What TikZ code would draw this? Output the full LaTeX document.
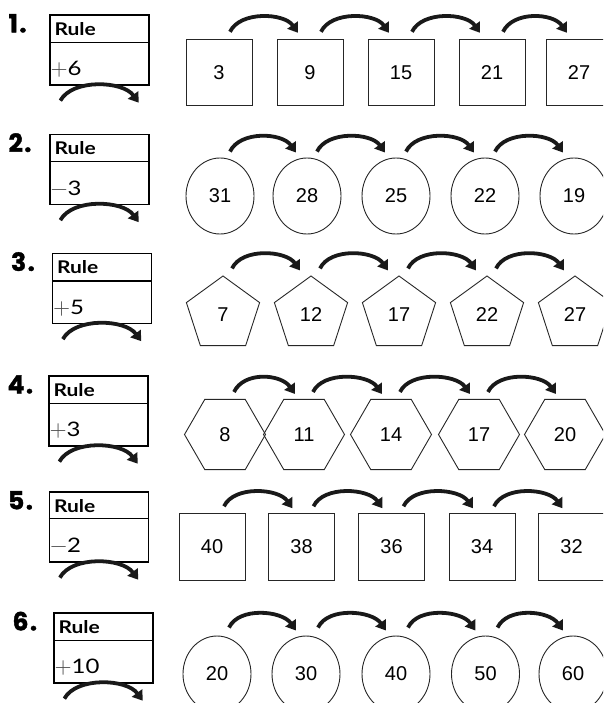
\documentclass[tikz,border=0pt]{standalone}
\usepackage{fontspec}
\setmainfont{Liberation Sans}
\newfontfamily\labfont{Poppins}[BoldFeatures={FakeBold=1.5}]
\newfontfamily\rulefont{Lato}[FakeStretch=1.2]
\newfontfamily\lmsign{lmroman10-regular.otf}
\usetikzlibrary{shapes.geometric,arrows.meta}
\newcommand{\sgn}[1]{{\lmsign\fontsize{22}{22}\selectfont\color{black!70}#1}}
\tikzset{
  rulebox/.style={draw=black, line width=1.3pt, minimum width=99pt, minimum height=70pt, inner sep=0pt},
  divider/.style={draw=black, line width=1.3pt},
  numtxt/.style={font=\fontsize{20}{20}\selectfont, text=black},
  sq/.style={numtxt, draw=black!85, line width=0.9pt, minimum width=66pt, minimum height=66.5pt, inner sep=0pt},
  ell/.style={numtxt, ellipse, draw=black!85, line width=0.9pt, minimum width=68pt, minimum height=76pt, inner sep=0pt},
  pent/.style={numtxt, regular polygon, regular polygon sides=5, draw=black!85, line width=0.9pt, minimum size=77pt, inner sep=0pt},
  hex/.style={numtxt, regular polygon, regular polygon sides=6, draw=black!85, line width=0.9pt, minimum size=81pt, inner sep=0pt},
  hop/.style={line width=3.8pt, draw=black!90, -{Triangle[width=12.5pt,length=9.5pt]}},
  numlab/.style={anchor=base west, inner sep=0pt, font=\labfont\bfseries\fontsize{25}{25}\selectfont},
  ruleword/.style={anchor=base west, inner sep=0pt, font=\rulefont\bfseries\fontsize{17.5}{17.5}\selectfont},
  ruleval/.style={anchor=base west, inner sep=0pt, font=\rulefont\fontsize{20}{20}\selectfont},
}
\begin{document}
\begin{tikzpicture}[x=1pt, y=-1pt]
\useasboundingbox (0,0) rectangle (603,703);
\clip (0,0) rectangle (603,703);

% ---------- Row 1 ----------
\node[rulebox] (b1) at (99.5,50) {};
\draw[divider] ([yshift=-28pt]b1.north west) -- ([yshift=-28pt]b1.north east);
\node[numlab] (l1) at ([shift={(-41pt,-18pt)}]b1.north west) {1\kern1.5pt.};
\node[ruleword] (w1) at ([shift={(5pt,-21pt)}]b1.north west) {Rule};
\node[ruleval] (v1) at ([shift={(1pt,10pt)}]b1.south west) {\sgn{+}6};
\draw[hop] ([shift={(11pt,-15pt)}]b1.south west) .. controls +(12pt,22pt) and +(-16pt,22pt) .. ([shift={(-11pt,-17pt)}]b1.south east);
\node[sq] (a1) at (219,72.5) {3};
\node[sq] (a2) at (310,72.5) {9};
\node[sq] (a3) at (401,72.5) {15};
\node[sq] (a4) at (492,72.5) {21};
\node[sq] (a5) at (579,72.5) {27};
\foreach \p/\q in {a1/a2,a2/a3,a3/a4,a4/a5}
  \draw[hop] ([shift={(11pt,7pt)}]\p.north) .. controls +(10pt,21pt) and +(-14pt,20pt) .. ([shift={(-12pt,6pt)}]\q.north);

% ---------- Row 2 ----------
\node[rulebox] (b2) at (99.5,169.5) {};
\draw[divider] ([yshift=-28pt]b2.north west) -- ([yshift=-28pt]b2.north east);
\node[numlab] (l2) at ([shift={(-41pt,-18pt)}]b2.north west) {2\kern1.5pt.};
\node[ruleword] (w2) at ([shift={(5pt,-21pt)}]b2.north west) {Rule};
\node[ruleval] (v2) at ([shift={(1pt,10pt)}]b2.south west) {\sgn{−}3};
\draw[hop] ([shift={(11pt,-15pt)}]b2.south west) .. controls +(12pt,22pt) and +(-16pt,22pt) .. ([shift={(-11pt,-17pt)}]b2.south east);
\node[ell] (c1) at (220,196) {31};
\node[ell] (c2) at (307,196) {28};
\node[ell] (c3) at (396,196) {25};
\node[ell] (c4) at (485,196) {22};
\node[ell] (c5) at (574,196) {19};
\foreach \p/\q in {c1/c2,c2/c3,c3/c4,c4/c5}
  \draw[hop] ([shift={(10pt,6pt)}]\p.north) .. controls +(10pt,21pt) and +(-14pt,20pt) .. ([shift={(-11pt,5pt)}]\q.north);

% ---------- Row 3 ----------
\node[rulebox] (b3) at (102,288.5) {};
\draw[divider] ([yshift=-28pt]b3.north west) -- ([yshift=-28pt]b3.north east);
\node[numlab] (l3) at ([shift={(-41pt,-18pt)}]b3.north west) {3\kern1.5pt.};
\node[ruleword] (w3) at ([shift={(5pt,-21pt)}]b3.north west) {Rule};
\node[ruleval] (v3) at ([shift={(1pt,10pt)}]b3.south west) {\sgn{+}5};
\draw[hop] ([shift={(11pt,-15pt)}]b3.south west) .. controls +(12pt,22pt) and +(-16pt,22pt) .. ([shift={(-11pt,-17pt)}]b3.south east);
\node[pent] (p1) at (223,314.5) {7};
\node[pent] (p2) at (311,314.5) {12};
\node[pent] (p3) at (399,314.5) {17};
\node[pent] (p4) at (487,314.5) {22};
\node[pent] (p5) at (575,314.5) {27};
\foreach \p/\q in {p1/p2,p2/p3,p3/p4,p4/p5}
  \draw[hop] ([shift={(9pt,7pt)}]\p.north) .. controls +(10pt,21pt) and +(-14pt,20pt) .. ([shift={(-11pt,5pt)}]\q.north);

% ---------- Row 4 ----------
\node[rulebox] (b4) at (98.5,411) {};
\draw[divider] ([yshift=-28pt]b4.north west) -- ([yshift=-28pt]b4.north east);
\node[numlab] (l4) at ([shift={(-41pt,-18pt)}]b4.north west) {4\kern1.5pt.};
\node[ruleword] (w4) at ([shift={(5pt,-21pt)}]b4.north west) {Rule};
\node[ruleval] (v4) at ([shift={(1pt,10pt)}]b4.south west) {\sgn{+}3};
\draw[hop] ([shift={(11pt,-15pt)}]b4.south west) .. controls +(12pt,22pt) and +(-16pt,22pt) .. ([shift={(-11pt,-17pt)}]b4.south east);
\node[hex] (h1) at (225,434.5) {8};
\node[hex] (h2) at (304,434.5) {11};
\node[hex] (h3) at (391,434.5) {14};
\node[hex] (h4) at (479,434.5) {17};
\node[hex] (h5) at (565,434.5) {20};
\foreach \p/\q in {h1/h2,h2/h3,h3/h4,h4/h5}
  \draw[hop] ([shift={(9pt,7pt)}]\p.north) .. controls +(10pt,21pt) and +(-14pt,20pt) .. ([shift={(-9pt,5pt)}]\q.north);

% ---------- Row 5 ----------
\node[rulebox] (b5) at (99,527) {};
\draw[divider] ([yshift=-27pt]b5.north west) -- ([yshift=-27pt]b5.north east);
\node[numlab] (l5) at ([shift={(-41pt,-18pt)}]b5.north west) {5\kern1.5pt.};
\node[ruleword] (w5) at ([shift={(5pt,-21pt)}]b5.north west) {Rule};
\node[ruleval] (v5) at ([shift={(1pt,10pt)}]b5.south west) {\sgn{−}2};
\draw[hop] ([shift={(11pt,-15pt)}]b5.south west) .. controls +(12pt,22pt) and +(-16pt,22pt) .. ([shift={(-11pt,-17pt)}]b5.south east);
\node[sq] (s1) at (212,547) {40};
\node[sq] (s2) at (301.5,547) {38};
\node[sq] (s3) at (391.5,547) {36};
\node[sq] (s4) at (482,547) {34};
\node[sq] (s5) at (571.5,547) {32};
\foreach \p/\q in {s1/s2,s2/s3,s3/s4,s4/s5}
  \draw[hop] ([shift={(12pt,7pt)}]\p.north) .. controls +(10pt,21pt) and +(-14pt,20pt) .. ([shift={(-9pt,5pt)}]\q.north);

% ---------- Row 6 ----------
\node[rulebox] (b6) at (103.5,648) {};
\draw[divider] ([yshift=-28pt]b6.north west) -- ([yshift=-28pt]b6.north east);
\node[numlab] (l6) at ([shift={(-41pt,-18pt)}]b6.north west) {6\kern1.5pt.};
\node[ruleword] (w6) at ([shift={(5pt,-21pt)}]b6.north west) {Rule};
\node[ruleval] (v6) at ([shift={(1pt,10pt)}]b6.south west) {\sgn{+}10};
\draw[hop] ([shift={(11pt,-15pt)}]b6.south west) .. controls +(12pt,22pt) and +(-16pt,22pt) .. ([shift={(-11pt,-17pt)}]b6.south east);
\node[ell] (e1) at (217,674) {20};
\node[ell] (e2) at (306,674) {30};
\node[ell] (e3) at (396,674) {40};
\node[ell] (e4) at (485.5,674) {50};
\node[ell] (e5) at (573,674) {60};
\foreach \p/\q in {e1/e2,e2/e3,e3/e4,e4/e5}
  \draw[hop] ([shift={(12pt,8pt)}]\p.north) .. controls +(10pt,21pt) and +(-14pt,20pt) .. ([shift={(-10pt,5pt)}]\q.north);
\end{tikzpicture}
\end{document}
